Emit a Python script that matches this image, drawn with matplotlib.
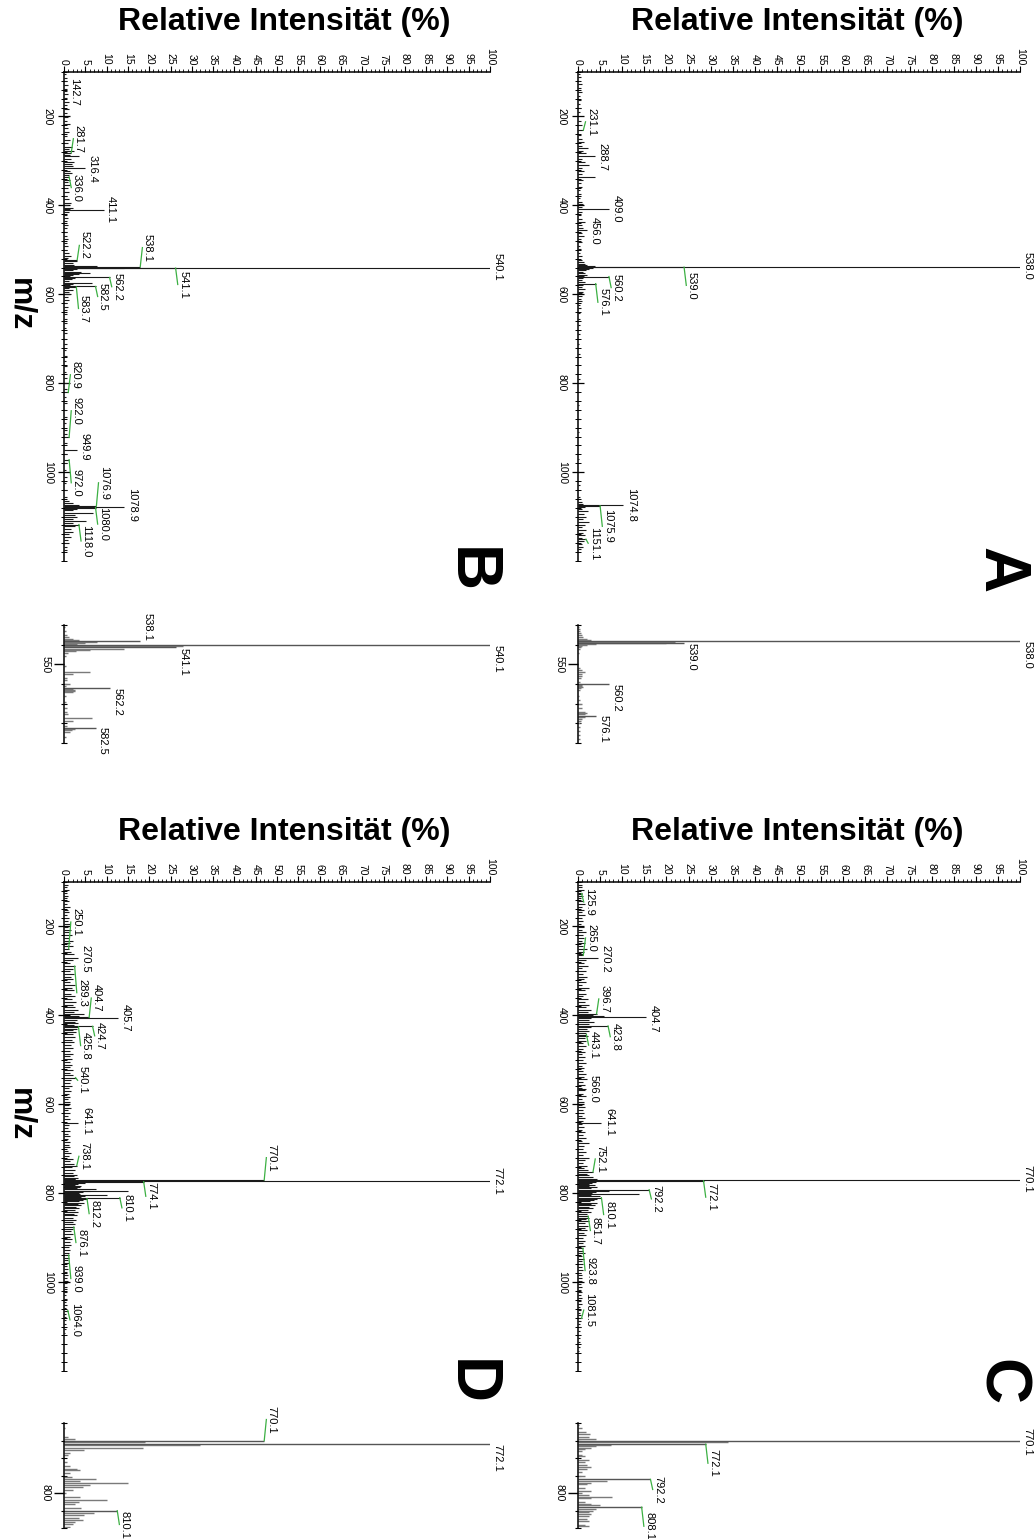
import matplotlib
matplotlib.use("Agg")
import matplotlib.pyplot as plt
from matplotlib.ticker import MultipleLocator, FixedLocator

plt.rcParams['font.family'] = ['Liberation Sans', 'DejaVu Sans']

W, H = 1034, 1539

# ---------------- spectrum A ----------------
A_mz = [105, 112, 120, 128, 136, 145, 153, 162, 171, 180, 190, 210, 220, 242, 250, 258, 266, 272, 278,
        283, 296, 302, 310, 316, 322, 329, 336, 342, 350, 358, 366, 374, 383, 392, 398, 403, 415, 422,
        430, 438, 445, 450, 462, 468, 475, 483, 491, 499, 507, 515, 522, 528, 532, 535, 537, 540, 543,
        546, 549, 553, 556, 558, 564, 568, 572, 579, 584, 589, 594, 598, 604, 610, 616, 624, 632, 642,
        655, 670, 690, 712, 735, 760, 790, 820, 850, 880, 910, 940, 970, 1000, 1030, 1055, 1068, 1072,
        1078, 1082, 1088, 1094, 1100, 1106, 1112, 1118, 1124, 1130, 1136, 1142, 1148, 1156, 1162, 1168, 1174]
A_int = [0.4, 0.7, 0.5, 0.9, 0.6, 0.8, 0.5, 0.7, 0.4, 0.6, 0.5, 0.6, 0.8, 0.7, 1.0, 1.4, 0.9, 2.2, 1.2,
         1.8, 1.0, 1.6, 2.4, 1.0, 1.4, 0.8, 3.8, 1.2, 0.7, 0.9, 0.5, 0.7, 0.5, 0.8, 1.2, 0.9, 1.0, 0.6,
         0.9, 1.6, 0.8, 1.2, 0.9, 1.4, 0.7, 0.9, 0.5, 0.7, 0.5, 0.8, 1.0, 1.4, 1.6, 2.0, 3.8, 3.5, 2.6,
         1.8, 1.2, 1.6, 2.0, 1.4, 1.2, 0.9, 1.5, 1.2, 1.0, 1.6, 1.2, 0.9, 1.0, 0.7, 0.8, 0.5, 0.6, 0.4,
         0.5, 0.4, 0.4, 0.3, 0.4, 0.3, 0.4, 0.3, 0.3, 0.4, 0.3, 0.3, 0.3, 0.3, 0.4, 0.5, 0.8, 1.2,
         1.6, 1.0, 2.2, 1.4, 1.8, 1.2, 2.4, 1.5, 1.0, 1.8, 1.2, 1.6, 1.0, 1.4, 0.9, 1.2, 0.7]
A_lab_mz = [231.1, 288.7, 409.0, 456.0, 538.0, 539.0, 560.2, 576.1, 1074.8, 1075.9, 1151.1]
A_lab_int = [1.2, 3.8, 7.0, 2.0, 100, 24.0, 7.0, 4.0, 10.2, 5.0, 1.8]

A_zoom_mz = [531, 532, 533, 534, 535, 536, 537, 537.5, 538.5, 539.3, 539.6, 540.0, 540.5, 541, 542, 544,
             552, 553, 554, 555, 556, 557, 559, 560.6, 561, 561.5, 562, 563, 566, 568, 570, 572, 574,
             575, 575.5, 576.6, 577, 578, 579, 580, 582, 584, 586, 588]
A_zoom_int = [0.3, 0.4, 0.5, 0.6, 0.8, 1.2, 2.0, 3.0, 22, 20, 4.0, 2.0, 1.0, 0.6, 0.4, 0.3,
              0.5, 0.8, 1.5, 0.8, 1.0, 0.6, 0.5, 1.0, 0.8, 1.2, 0.6, 0.4, 0.3, 0.5, 0.8, 1.0, 1.5,
              2.0, 1.5, 1.5, 1.0, 0.8, 0.6, 0.5, 0.4, 0.4, 0.4, 0.5]
A_zoom_lab_mz = [538.0, 539.0, 560.2, 576.1]
A_zoom_lab_int = [100, 24.0, 7.0, 4.0]

# ---------------- spectrum B ----------------
B_mz = [105, 113, 121, 130, 138, 150, 158, 167, 175, 184, 192, 201, 210, 218, 226, 235, 243, 252, 260,
        268, 274, 278, 286, 290, 296, 302, 308, 312, 322, 328, 332, 342, 348, 355, 362, 370, 378, 386,
        394, 400, 405, 408, 415, 421, 428, 436, 444, 452, 460, 468, 476, 484, 492, 500, 508, 515, 519,
        526, 530, 534, 536, 542, 543, 546, 549, 552, 555, 557, 560, 564, 566, 570, 575, 577, 580, 586,
        590, 595, 600, 606, 612, 620, 628, 636, 645, 655, 665, 676, 688, 700, 712, 725, 738, 750, 762,
        775, 788, 800, 812, 830, 845, 860, 875, 890, 905, 915, 935, 960, 980, 995, 1010, 1025, 1040,
        1055, 1065, 1070, 1074, 1082, 1086, 1092, 1096, 1100, 1105, 1110, 1114, 1122, 1128, 1134,
        1140, 1146, 1152, 1160, 1168, 1176]
B_int = [0.5, 0.8, 0.6, 1.0, 0.7, 0.9, 0.6, 1.1, 0.8, 1.2, 0.7, 1.0, 0.8, 1.3, 0.9, 1.2, 0.8, 1.4, 1.0,
         1.8, 1.2, 2.4, 1.5, 3.5, 1.6, 2.4, 1.8, 2.2, 1.4, 1.9, 1.2, 1.5, 1.0, 1.4, 0.9, 1.2, 0.8, 1.1,
         1.6, 1.0, 2.0, 1.4, 1.2, 0.8, 1.0, 0.7, 0.9, 0.6, 0.8, 0.6, 0.9, 0.7, 1.0, 0.8, 1.2, 1.6, 1.0,
         3.0, 2.0, 2.4, 7.8, 14.0, 3.0, 2.0, 4.0, 6.2, 3.5, 2.0, 1.5, 2.5, 1.8, 1.2, 6.6, 2.0, 1.5, 1.2,
         2.0, 1.2, 1.6, 1.0, 1.2, 0.8, 0.9, 0.6, 0.8, 0.6, 0.7, 0.5, 0.6, 0.5, 0.6, 0.5, 0.6, 0.5, 0.6,
         0.5, 0.7, 0.6, 0.8, 0.5, 0.6, 0.5, 0.6, 0.5, 0.6, 0.8, 0.6, 0.6, 0.6, 0.5, 0.6, 0.5, 0.6,
         0.8, 1.2, 2.0, 3.5, 3.0, 2.0, 6.8, 2.5, 3.0, 2.0, 5.2, 2.0, 2.5, 1.6, 2.0,
         1.2, 1.6, 1.0, 1.2, 0.8, 0.6]
B_lab_mz = [142.7, 281.7, 316.4, 336.0, 411.1, 522.2, 538.1, 540.1, 541.1, 562.2, 582.5, 583.7,
            820.9, 922.0, 949.9, 972.0, 1076.9, 1078.9, 1080.0, 1118.0]
B_lab_int = [0.6, 1.7, 5.0, 1.2, 9.3, 3.1, 17.9, 100, 26.2, 10.7, 7.4, 2.9,
             1.0, 1.2, 3.0, 1.2, 7.6, 14.1, 7.4, 3.5]

B_zoom_mz = [531, 533, 535, 536, 537, 537.5, 538.6, 539, 539.5, 540.6, 542, 542.5, 543, 544, 546,
             551, 554, 555, 557, 558, 559.8, 561, 562.7, 563, 563.5, 564, 566, 569, 572, 574, 575.3,
             577.5, 578.7, 581.5, 583, 583.5, 584.5, 587]
B_zoom_int = [0.3, 0.5, 0.8, 1.2, 2.0, 3.5, 7.8, 5.0, 3.0, 28, 14.0, 6.0, 2.7, 1.0, 0.5,
              0.4, 6.0, 2.0, 0.6, 0.8, 1.5, 0.5, 2.0, 2.5, 2.6, 2.2, 0.5, 0.4, 0.6, 0.8, 1.0,
              6.6, 2.0, 0.8, 2.5, 1.8, 1.5, 0.5]
B_zoom_lab_mz = [538.1, 540.1, 541.1, 562.2, 582.5]
B_zoom_lab_int = [17.9, 100, 26.2, 10.7, 7.4]

# ---------------- spectrum C ----------------
C_mz = [100, 106, 112, 118, 124, 131, 137, 143, 150, 156, 162, 168, 175, 181, 188, 194, 201, 207, 213,
        219, 226, 232, 238, 244, 251, 257, 263, 276, 282, 288, 294, 301, 307, 313, 319, 326, 332, 338,
        344, 351, 357, 363, 369, 376, 382, 388, 393, 399, 402, 407, 411, 415, 419, 427, 431, 435, 439,
        447, 451, 457, 463, 469, 476, 482, 488, 494, 501, 507, 513, 519, 526, 532, 538, 544, 551, 557,
        563, 569, 576, 582, 588, 594, 601, 607, 613, 619, 626, 632, 638, 645, 651, 657, 663, 669, 676,
        682, 688, 694, 701, 707, 713, 720, 726, 732, 738, 744, 748, 756, 760, 764, 767, 768.5, 771,
        774, 776, 779, 781, 784, 786, 789, 795, 797, 800, 802, 805, 807, 812, 815, 818, 821, 824, 827,
        830, 834, 838, 842, 846, 855, 859, 863, 868, 873, 878, 883, 889, 895, 901, 907, 913, 919, 929,
        935, 941, 947, 953, 960, 966, 972, 979, 985, 991, 998, 1004, 1010, 1017, 1023, 1030, 1036,
        1043, 1049, 1056, 1062, 1069, 1075, 1088, 1095, 1102, 1110, 1118, 1126, 1135, 1145, 1155]
C_int = [0.6, 1.0, 0.8, 1.4, 0.9, 1.2, 0.7, 1.1, 1.6, 0.9, 1.3, 0.8, 1.5, 1.0, 1.2, 0.7, 1.4, 1.0, 1.8,
         1.1, 1.3, 0.9, 1.6, 1.2, 2.0, 1.4, 1.1, 1.9, 1.3, 2.2, 1.0, 1.7, 1.2, 2.0, 1.4, 1.8, 1.0, 2.4,
         1.5, 1.9, 1.2, 2.3, 1.6, 2.6, 1.8, 3.0, 2.2, 3.4, 5.8, 3.0, 2.5, 3.6, 2.4, 3.0, 2.0, 2.6, 1.7,
         2.2, 1.5, 1.9, 1.2, 1.7, 1.1, 1.6, 1.0, 1.5, 1.2, 1.8, 1.0, 1.4, 1.1, 1.7, 1.3, 2.0, 1.2, 1.6,
         1.0, 1.5, 1.1, 1.7, 0.9, 1.3, 1.0, 1.5, 1.1, 1.4, 0.9, 1.6, 1.2, 1.0, 1.3, 0.9, 1.5, 1.1, 1.7,
         1.0, 2.5, 1.4, 1.1, 1.8, 1.2, 2.6, 1.5, 1.2, 2.0, 1.4, 2.2, 2.0, 2.6, 3.5, 4.2, 3.0, 2.8,
         4.0, 3.2, 2.4, 3.8, 2.6, 4.4, 3.0, 7.0, 4.0, 3.2, 13.8, 3.0, 5.0, 4.4, 3.6, 2.8, 4.2, 3.0, 3.8,
         2.5, 3.4, 2.2, 3.0, 2.0, 2.6, 1.8, 2.4, 1.6, 2.2, 1.5, 2.0, 1.3, 1.8, 1.2, 1.6, 1.1, 1.5, 1.2,
         1.5, 1.0, 1.3, 0.9, 1.2, 0.8, 1.1, 0.7, 1.0, 0.8, 1.0, 0.7, 0.9, 0.6, 0.9, 0.6, 0.8,
         0.6, 0.8, 0.5, 0.7, 0.5, 0.7, 0.6, 0.5, 0.6, 0.5, 0.5, 0.4, 0.4, 0.4, 0.3]
C_lab_mz = [125.9, 265.0, 270.2, 396.7, 404.7, 423.8, 443.1, 566.0, 641.1, 752.1, 770.1, 772.1, 792.2,
            810.1, 851.7, 923.8, 1081.5]
C_lab_int = [0.8, 1.2, 4.5, 4.2, 15.4, 6.8, 1.9, 1.9, 5.3, 3.4, 100, 28.4, 16.1, 5.3, 2.3, 1.1, 0.8]

C_zoom_mz = [761, 763, 765, 766, 768, 769, 770.9, 772.6, 773, 774, 775, 776, 778, 779, 781, 782, 784,
             785, 786, 788, 790, 792.9, 794, 795, 797, 799, 800, 801, 802.5, 803, 805, 806, 807, 809,
             810, 811, 812, 813, 815, 816, 818, 819]
C_zoom_int = [0.3, 0.8, 1.7, 2.8, 2.5, 4.0, 34, 7.5, 4.0, 3.0, 1.5, 1.0, 1.0, 1.5, 2.5, 1.5, 2.0,
              3.0, 2.0, 1.0, 1.5, 6.6, 3.0, 2.0, 1.5, 3.0, 1.0, 2.5, 7.6, 3.0, 1.5, 3.0, 5.0, 4.0,
              3.5, 2.5, 3.0, 2.5, 2.0, 2.5, 1.5, 2.5]
C_zoom_lab_mz = [770.1, 772.1, 792.2, 808.1]
C_zoom_lab_int = [100, 28.9, 16.4, 14.4]

# ---------------- spectrum D ----------------
D_mz = [100, 106, 112, 118, 124, 131, 137, 143, 150, 156, 162, 168, 175, 181, 188, 194, 201, 207, 213,
        219, 226, 232, 238, 244, 257, 263, 276, 282, 295, 301, 307, 313, 319, 326, 332, 338, 344, 351,
        357, 363, 369, 376, 382, 388, 393, 398, 401, 410, 414, 418, 421, 430, 434, 438, 443, 449, 455,
        461, 467, 473, 480, 486, 492, 498, 505, 511, 517, 523, 529, 535, 546, 552, 558, 564, 570, 577,
        583, 589, 595, 602, 608, 614, 620, 627, 633, 647, 653, 660, 666, 672, 679, 685, 691, 697, 704,
        710, 716, 722, 728, 734, 742, 748, 754, 758, 762, 765, 767, 769, 776, 778, 780, 782, 784.5,
        786, 787, 789, 791, 794.5, 795.6, 797, 799, 802.5, 804, 806, 808.5, 815, 818, 821, 824, 827,
        830, 834, 838, 842, 846, 850, 855, 860, 865, 870, 881, 886, 892, 898, 904, 910, 916, 922, 928,
        934, 945, 951, 958, 964, 971, 977, 984, 990, 997, 1003, 1010, 1016, 1023, 1030, 1037, 1044,
        1051, 1058, 1071, 1078, 1086, 1095, 1105, 1115]
D_int = [0.5, 0.9, 0.7, 1.2, 0.8, 1.0, 0.6, 1.1, 0.8, 1.3, 0.9, 1.1, 0.7, 1.2, 0.9, 1.4, 1.0, 1.6, 1.1,
         1.8, 1.2, 2.0, 1.4, 2.2, 1.6, 2.4, 2.0, 1.5, 2.1, 1.4, 2.4, 1.7, 2.2, 1.5, 2.6, 1.8, 2.3, 1.6,
         2.5, 1.9, 2.8, 2.0, 2.6, 3.2, 2.4, 4.6, 3.5, 3.0, 2.6, 3.4, 2.4, 3.0, 2.2, 2.8, 2.0, 2.6, 1.8,
         2.3, 1.6, 2.1, 1.5, 2.0, 1.4, 1.9, 1.3, 1.8, 1.4, 2.0, 1.5, 2.2, 1.7, 1.4, 1.8, 1.2, 1.6, 1.1,
         1.5, 1.0, 1.4, 1.1, 1.6, 1.0, 1.3, 0.9, 1.5, 1.2, 1.0, 1.4, 1.0, 1.3, 0.9, 1.5, 1.1, 1.3, 1.0,
         1.6, 1.2, 2.0, 1.5, 2.4, 1.8, 2.6, 2.0, 3.0, 2.4, 3.4, 2.6, 2.5, 5.0, 2.4, 3.4, 2.6, 4.0,
         3.0, 3.8, 3.0, 7.6, 15.0, 6.0, 4.5, 3.6, 3.8, 10.0, 5.0, 4.0, 4.5, 3.6, 4.8, 3.2, 4.0,
         2.8, 3.5, 2.6, 3.2, 2.4, 3.0, 2.2, 2.8, 2.0, 2.6, 2.0, 1.6, 2.2, 1.4, 1.9, 1.3, 1.7, 1.2, 1.5,
         1.1, 1.2, 0.9, 1.1, 0.8, 1.0, 0.7, 0.9, 0.7, 0.9, 0.6, 0.8, 0.6, 0.7, 0.5, 0.7, 0.5,
         0.6, 0.5, 0.5, 0.4, 0.5, 0.4, 0.4, 0.3]
D_lab_mz = [250.1, 270.5, 289.3, 404.7, 405.7, 424.7, 425.8, 540.1, 641.1, 738.1, 770.1, 772.1, 774.1,
            810.1, 812.2, 876.1, 939.0, 1064.0]
D_lab_int = [1.1, 3.3, 2.5, 5.9, 12.7, 6.7, 3.4, 2.7, 3.4, 3.0, 47.0, 100, 18.7, 13.1, 5.4, 2.3, 1.1, 0.9]

D_zoom_mz = [763, 768, 769, 771, 772.8, 774, 775.3, 777, 778, 782, 784.5, 786, 787, 788.7, 791, 792,
             793, 794.5, 795.6, 796.8, 798, 800, 802.5, 804, 805.2, 806.5, 808.5, 811.3, 812.7, 814,
             815.2, 816.3, 817.9, 819.4]
D_zoom_int = [0.3, 1.0, 2.5, 19.0, 32.0, 18.5, 4.8, 1.5, 1.0, 0.8, 1.5, 3.0, 3.8, 1.5, 1.8, 7.6,
              3.7, 15.0, 6.0, 4.5, 2.0, 0.5, 3.8, 10.0, 3.5, 2.5, 4.0, 7.0, 4.8, 3.5,
              4.5, 2.5, 2.0, 1.5]
D_zoom_lab_mz = [770.1, 772.1, 810.1]
D_zoom_lab_int = [47.0, 100, 12.5]

# ---------------- label layout (where each label sits, m/z units) ----------------
A_lab_at = [212, 290, 408, 458, 537, 580, 585, 618, 1074, 1122, 1160]
A_lead = [1, 0, 0, 0, 0, 1, 1, 1, 0, 1, 1]
B_lab_at = [144, 250, 317, 360, 409, 490, 495, 538, 578, 583, 605, 632, 781, 862, 943, 1024, 1024,
            1074, 1117, 1155]
B_lead = [0, 1, 0, 1, 0, 1, 1, 0, 1, 1, 1, 1, 1, 1, 0, 1, 1, 0, 1, 1]
C_lab_at = [145, 226, 274, 363, 407, 448, 467, 565, 639, 723, 767, 809, 813, 848, 884, 974, 1063]
C_lead = [1, 1, 0, 1, 0, 1, 1, 0, 0, 1, 0, 1, 1, 1, 1, 1, 1]
D_lab_at = [190, 272, 349, 361, 406, 446, 468, 546, 637, 717, 720, 772, 807, 833, 846, 911, 992, 1085]
D_lead = [1, 0, 1, 1, 0, 1, 1, 1, 0, 1, 1, 0, 1, 1, 1, 1, 1, 1]

A_zoom_lab_at = [545, 546, 567, 583]
A_zoom_lead = [0, 0, 0, 0]
B_zoom_lab_at = [531, 547, 548.5, 569, 589]
B_zoom_lead = [0, 0, 0, 0, 0]
C_zoom_lab_at = [771, 783, 798, 819]
C_zoom_lead = [0, 1, 1, 1]
D_zoom_lab_at = [758, 780, 818]
D_zoom_lead = [1, 0, 1]

GREEN = '#3cb043'
fig = plt.figure(figsize=(W / 100, H / 100), dpi=100)


def px_rect(left, top, right, bottom):
    return [left / W, 1 - bottom / H, (right - left) / W, (bottom - top) / H]


def put_labels(ax, lab_mz, lab_int, lab_at, lead, size):
    for mz, it, at, ld in zip(lab_mz, lab_int, lab_at, lead):
        if ld:
            ax.plot([it, it + 0.5], [mz, at], color=GREEN, lw=0.9, clip_on=False)
        ax.text(it + 0.6, at, f"{mz:.1f}", rotation=270, rotation_mode='anchor',
                ha='center', va='bottom', fontsize=size, clip_on=False)


def main_panel(rect, mz, inten, lab_mz, lab_int, lab_at, lead):
    ax = fig.add_axes(rect)
    ax.hlines(mz, 0, inten, color='#1a1a1a', lw=0.8)
    ax.hlines(lab_mz, 0, lab_int, color='#1a1a1a', lw=0.8)
    ax.set_xlim(0, 100)
    ax.set_ylim(1200, 100)
    ax.patch.set_alpha(0)
    for s in ['right', 'bottom']:
        ax.spines[s].set_visible(False)
    for s in ['top', 'left']:
        ax.spines[s].set_linewidth(1.1)
    ax.xaxis.tick_top()
    ax.xaxis.set_major_locator(MultipleLocator(5))
    ax.xaxis.set_minor_locator(MultipleLocator(1))
    ax.tick_params(axis='x', which='major', direction='out', length=4, width=0.8,
                   labelsize=7.5, labelrotation=270, pad=1)
    ax.tick_params(axis='x', which='minor', direction='out', length=2, width=0.6)
    ax.yaxis.set_major_locator(FixedLocator([200, 400, 600, 800, 1000]))
    ax.yaxis.set_minor_locator(MultipleLocator(20))
    ax.tick_params(axis='y', which='major', direction='inout', length=8, width=0.9,
                   labelsize=7.5, pad=4)
    ax.tick_params(axis='y', which='minor', direction='inout', length=5, width=0.7)
    for lbl in ax.get_yticklabels():
        lbl.set_rotation(270)
        lbl.set_va('center')
    put_labels(ax, lab_mz, lab_int, lab_at, lead, 8)
    return ax


def zoom_panel(rect, lim, tick, mz, inten, lab_mz, lab_int, lab_at, lead):
    ax = fig.add_axes(rect)
    ax.hlines(mz, 0, inten, color='#7a7a7a', lw=1.0)
    ax.hlines(lab_mz, 0, lab_int, color='#555555', lw=1.0)
    ax.set_xlim(0, 100)
    ax.set_ylim(lim[1], lim[0])
    ax.patch.set_alpha(0)
    for s in ['right', 'bottom', 'top']:
        ax.spines[s].set_visible(False)
    ax.spines['left'].set_linewidth(1.1)
    ax.set_xticks([])
    ax.yaxis.set_major_locator(FixedLocator([tick]))
    ax.yaxis.set_minor_locator(MultipleLocator(10))
    ax.tick_params(axis='y', which='major', direction='out', length=7, width=1.0,
                   labelsize=7.5, pad=3)
    ax.tick_params(axis='y', which='minor', direction='inout', length=5, width=0.8)
    for lbl in ax.get_yticklabels():
        lbl.set_rotation(270)
        lbl.set_va('center')
    put_labels(ax, lab_mz, lab_int, lab_at, lead, 8)
    return ax


# right column: A (top) and C (bottom); left column: B and D
main_panel(px_rect(578, 72, 1020, 561), A_mz, A_int, A_lab_mz, A_lab_int, A_lab_at, A_lead)
main_panel(px_rect(64, 72, 490, 561), B_mz, B_int, B_lab_mz, B_lab_int, B_lab_at, B_lead)
main_panel(px_rect(578, 882, 1020, 1371), C_mz, C_int, C_lab_mz, C_lab_int, C_lab_at, C_lead)
main_panel(px_rect(64, 882, 490, 1371), D_mz, D_int, D_lab_mz, D_lab_int, D_lab_at, D_lead)

zoom_panel(px_rect(578, 625, 1020, 743), (530, 590), 550, A_zoom_mz, A_zoom_int,
           A_zoom_lab_mz, A_zoom_lab_int, A_zoom_lab_at, A_zoom_lead)
zoom_panel(px_rect(64, 625, 490, 743), (530, 590), 550, B_zoom_mz, B_zoom_int,
           B_zoom_lab_mz, B_zoom_lab_int, B_zoom_lab_at, B_zoom_lead)
zoom_panel(px_rect(578, 1423, 1020, 1528), (760, 820), 800, C_zoom_mz, C_zoom_int,
           C_zoom_lab_mz, C_zoom_lab_int, C_zoom_lab_at, C_zoom_lead)
zoom_panel(px_rect(64, 1423, 490, 1528), (760, 820), 800, D_zoom_mz, D_zoom_int,
           D_zoom_lab_mz, D_zoom_lab_int, D_zoom_lab_at, D_zoom_lead)

title = "Relative Intensität (%)"
for cx, cy in [(797, 22), (284, 22), (797, 832), (284, 832)]:
    fig.text(cx / W, 1 - cy / H, title, fontsize=23, fontweight='bold', ha='center', va='center')

for cy in [305, 1115]:
    fig.text(20 / W, 1 - cy / H, "m/z", fontsize=23, fontweight='bold', rotation=270,
             ha='center', va='center')

for letter, cx, cy in [("A", 1000, 570), ("B", 470, 570), ("C", 1000, 1382), ("D", 470, 1382)]:
    fig.text(cx / W, 1 - cy / H, letter, fontsize=46, fontweight='bold', rotation=270,
             ha='center', va='center')

fig.savefig("out.png", dpi=100)
